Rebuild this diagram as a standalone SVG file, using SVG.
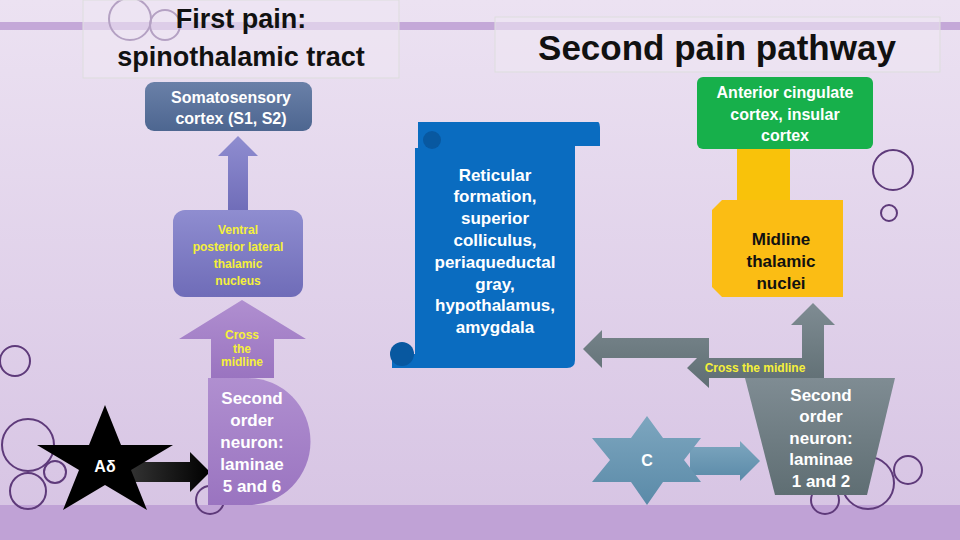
<svg xmlns="http://www.w3.org/2000/svg" width="960" height="540" viewBox="0 0 960 540">
<defs>
<linearGradient id="bg" x1="0" y1="0" x2="0" y2="1"><stop offset="0" stop-color="#ece2f2"/><stop offset="1" stop-color="#d6c3e3"/></linearGradient>
<linearGradient id="pur" x1="0" y1="0" x2="0" y2="1"><stop offset="0" stop-color="#8f8dd0"/><stop offset="1" stop-color="#6f6cb8"/></linearGradient>
<linearGradient id="lil" x1="0" y1="0" x2="0" y2="1"><stop offset="0" stop-color="#b08fd0"/><stop offset="1" stop-color="#9a74c0"/></linearGradient>
<linearGradient id="gry" x1="0" y1="0" x2="0" y2="1"><stop offset="0" stop-color="#7f8c93"/><stop offset="1" stop-color="#5f6e73"/></linearGradient>
<linearGradient id="stl" x1="0" y1="0" x2="0" y2="1"><stop offset="0" stop-color="#7da6bf"/><stop offset="1" stop-color="#5a8aa8"/></linearGradient>
<linearGradient id="som" x1="0" y1="0" x2="0" y2="1"><stop offset="0" stop-color="#6a80a8"/><stop offset="1" stop-color="#4d6690"/></linearGradient>
<linearGradient id="blk" x1="0" y1="0" x2="1" y2="0"><stop offset="0" stop-color="#333"/><stop offset="1" stop-color="#000"/></linearGradient>
</defs>
<style>
.w{fill:#fff;font-family:"Liberation Sans",Arial,sans-serif;font-weight:bold;text-anchor:middle}
.y{fill:#f5f03a;font-family:"Liberation Sans",Arial,sans-serif;font-weight:bold;text-anchor:middle}
.k{fill:#111;font-family:"Liberation Sans",Arial,sans-serif;font-weight:bold;text-anchor:middle}
.c{fill:none;stroke:#5e3a7a;stroke-width:2}
</style>
<rect width="960" height="540" fill="url(#bg)"/>
<rect y="22" width="960" height="8" fill="#c4a8d8"/>
<rect y="505" width="960" height="35" fill="#c0a2d6"/>
<g id="decor">
<circle class="c" cx="130" cy="19" r="21"/><circle class="c" cx="165" cy="25" r="15"/>
<circle class="c" cx="15" cy="361" r="15"/><circle class="c" cx="28" cy="445" r="26"/><circle class="c" cx="55" cy="472" r="11"/><circle class="c" cx="28" cy="491" r="18"/><circle class="c" cx="210" cy="500" r="14"/>
<circle class="c" cx="893" cy="170" r="20"/><circle class="c" cx="889" cy="213" r="8"/><circle class="c" cx="908" cy="470" r="14"/><circle class="c" cx="868" cy="483" r="26"/><circle class="c" cx="825" cy="500" r="14"/>
</g>
<g id="title1"><rect x="83" y="0" width="316" height="78" fill="#eee6f3" fill-opacity="0.6" stroke="#ddd" /><text class="k" x="241" y="28" font-size="27">First pain:</text><text class="k" x="241" y="66" font-size="27">spinothalamic tract</text></g>
<g id="title2"><rect x="495" y="17" width="445" height="55" fill="#eee6f3" fill-opacity="0.6" stroke="#ddd"/><text class="k" x="717" y="60" font-size="35">Second pain pathway</text></g>
<g id="connectors">
<polygon points="238,136 258,156 248,156 248,213 228,213 228,156 218,156" fill="url(#pur)"/>
<polygon points="242,300 306,339 274,339 274,378 211,378 211,339 179,339" fill="url(#lil)"/>
<polygon points="130,462 190,462 190,452 210,472 190,492 190,482 130,482" fill="url(#blk)"/>
<polygon points="690,447 740,447 740,441 760,461 740,481 740,475 690,475" fill="url(#stl)"/>
<rect x="737" y="148" width="53" height="54" fill="#f9c20a"/>
<polygon points="583,349 602,330 602,338 709,338 709,358 802,358 802,325 791,325 813,303 835,325 824,325 824,378 709,378 709,388 687,368 697,358 602,358 602,368" fill="url(#gry)"/>
</g>
<g id="somato"><rect x="145" y="82" width="167" height="49" rx="9" fill="url(#som)"/><text class="w" x="231" y="103" font-size="16">Somatosensory</text><text class="w" x="231" y="124" font-size="16">cortex (S1, S2)</text></g>
<g id="vpl"><rect x="173" y="210" width="130" height="87" rx="12" fill="url(#pur)"/><text class="y" x="238" y="234" font-size="12">Ventral</text><text class="y" x="238" y="251" font-size="12">posterior lateral</text><text class="y" x="238" y="268" font-size="12">thalamic</text><text class="y" x="238" y="285" font-size="12">nucleus</text></g>
<g id="cross1"><text class="y" x="242" y="339" font-size="12">Cross</text><text class="y" x="242" y="353" font-size="12">the</text><text class="y" x="242" y="366" font-size="12">midline</text></g>
<g id="so1"><path d="M208,378 H248 A62,63 0 0 1 248,505 H208 Z" fill="url(#lil)"/><text class="w" x="252" y="404" font-size="17">Second</text><text class="w" x="252" y="426" font-size="17">order</text><text class="w" x="252" y="448" font-size="17">neuron:</text><text class="w" x="252" y="470" font-size="17">laminae</text><text class="w" x="252" y="492" font-size="17">5 and 6</text></g>
<g id="adelta"><polygon points="105,405 121,445 173,445 131,470 147,510 105,485 63,510 79,470 37,445 89,445" fill="#000"/><text class="w" x="105" y="472" font-size="16">Aδ</text></g>
<g id="reticular"><path d="M418,122 H598 Q600,122 600,130 V146 H575 V360 Q575,368 567,368 H392 V354 H415 V148 H418 Z" fill="#0a6cc0"/><circle cx="432" cy="140" r="9" fill="#0858a0"/><circle cx="402" cy="354" r="12" fill="#0858a0"/><text class="w" x="495" y="181" font-size="17">Reticular</text><text class="w" x="495" y="202" font-size="17">formation,</text><text class="w" x="495" y="224" font-size="17">superior</text><text class="w" x="495" y="246" font-size="17">colliculus,</text><text class="w" x="495" y="268" font-size="17">periaqueductal</text><text class="w" x="495" y="290" font-size="17">gray,</text><text class="w" x="495" y="311" font-size="17">hypothalamus,</text><text class="w" x="495" y="333" font-size="17">amygdala</text></g>
<g id="acc"><rect x="697" y="77" width="176" height="72" rx="6" fill="#17b04b"/><text class="w" x="785" y="98" font-size="16">Anterior cingulate</text><text class="w" x="785" y="120" font-size="16">cortex, insular</text><text class="w" x="785" y="141" font-size="16">cortex</text></g>
<g id="midline"><polygon points="722,200 843,200 843,297 722,297 712,287 712,210" fill="#fbbd14"/><text class="k" x="781" y="245" font-size="17">Midline</text><text class="k" x="781" y="267" font-size="17">thalamic</text><text class="k" x="781" y="289" font-size="17">nuclei</text></g>
<g id="cross2"><text class="y" x="755" y="372" font-size="12">Cross the midline</text></g>
<g id="so2"><polygon points="745,378 895,378 867,495 775,495" fill="url(#gry)"/><text class="w" x="821" y="401" font-size="17">Second</text><text class="w" x="821" y="422" font-size="17">order</text><text class="w" x="821" y="444" font-size="17">neuron:</text><text class="w" x="821" y="465" font-size="17">laminae</text><text class="w" x="821" y="487" font-size="17">1 and 2</text></g>
<g id="c"><polygon points="647,416 663,438 701,438 684,460 701,482 663,482 647,505 631,482 592,482 610,460 592,438 631,438" fill="url(#stl)"/><text class="w" x="647" y="466" font-size="16">C</text></g>
</svg>
